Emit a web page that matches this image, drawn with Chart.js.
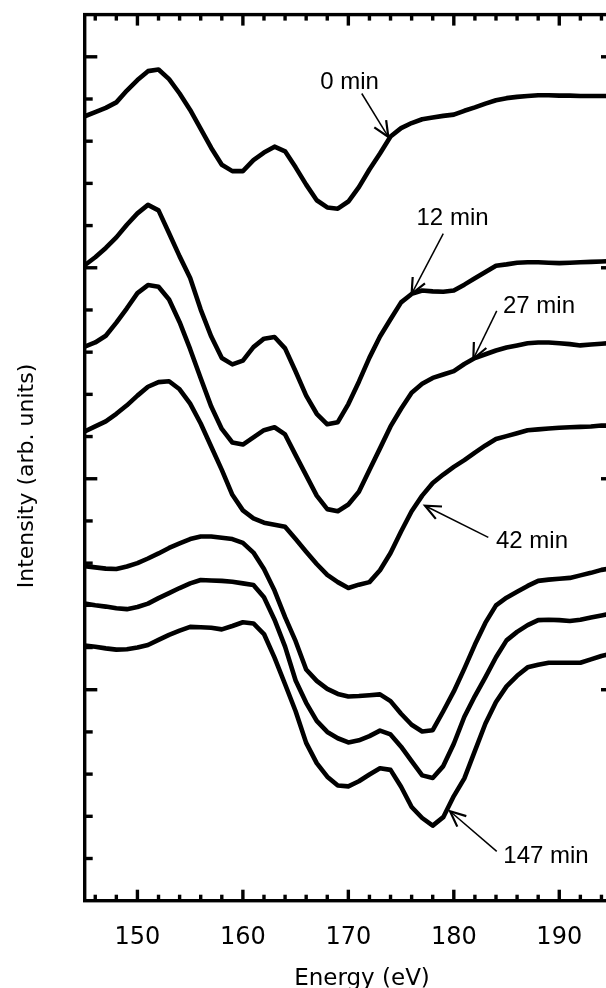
<!DOCTYPE html>
<html>
<head>
<meta charset="utf-8">
<script src="https://cdn.jsdelivr.net/npm/chart.js@4/dist/chart.umd.min.js"></script>
<style>
  html, body { margin: 0; padding: 0; background: #ffffff; overflow: hidden; }
  #wrap { position: absolute; left: 0; top: 0; width: 620px; height: 988px; }
  canvas { display: block; }
</style>
</head>
<body>
<div id="wrap"><canvas id="chart" width="620" height="988"></canvas></div>
<script>
// ---------------- data ----------------
const energies = [145,146,147,148,149,150,151,152,153,154,155,156,157,158,159,160,161,162,163,164,
  165,166,167,168,169,170,171,172,173,174,175,176,177,178,179,180,181,182,183,184,185,186,187,188,189,
  190,191,192,193,194,195];

const spec0min = [18.59,18.69,18.79,18.92,19.20,19.45,19.66,19.70,19.47,19.13,
  18.74,18.29,17.84,17.44,17.29,17.29,17.55,17.73,17.87,17.76,
  17.38,16.97,16.60,16.43,16.40,16.57,16.91,17.33,17.71,18.11,
  18.31,18.43,18.52,18.56,18.60,18.63,18.72,18.80,18.89,18.97,
  19.02,19.05,19.07,19.09,19.09,19.08,19.08,19.07,19.07,19.07,19.07];

const spec12min = [15.06,15.25,15.47,15.72,16.02,16.29,16.49,16.36,15.82,15.27,
  14.76,14.01,13.37,12.86,12.71,12.80,13.12,13.32,13.36,13.09,
  12.54,11.97,11.54,11.29,11.34,11.77,12.30,12.87,13.37,13.78,
  14.18,14.38,14.46,14.44,14.43,14.46,14.60,14.75,14.90,15.05,
  15.08,15.12,15.13,15.13,15.12,15.11,15.12,15.13,15.14,15.15,15.16];

const spec27min = [13.13,13.23,13.39,13.70,14.04,14.40,14.59,14.55,14.25,13.71,
  13.07,12.38,11.71,11.18,10.86,10.81,10.98,11.15,11.22,11.05,
  10.56,10.08,9.60,9.28,9.23,9.39,9.69,10.21,10.72,11.24,
  11.66,12.04,12.25,12.39,12.47,12.55,12.72,12.86,12.95,13.04,
  13.11,13.16,13.21,13.23,13.23,13.21,13.19,13.16,13.18,13.20,13.22];

const spec42min = [11.12,11.24,11.36,11.54,11.74,11.97,12.18,12.29,12.31,12.12,
  11.78,11.31,10.76,10.21,9.62,9.25,9.06,8.96,8.91,8.86,
  8.57,8.27,7.98,7.72,7.55,7.41,7.49,7.55,7.83,8.24,
  8.75,9.23,9.60,9.90,10.10,10.28,10.44,10.62,10.79,10.94,
  11.01,11.08,11.15,11.17,11.19,11.21,11.22,11.23,11.24,11.26,11.26];

const specUnlabeledA = [7.93,7.90,7.87,7.86,7.92,8.00,8.11,8.23,8.36,8.47,
  8.57,8.63,8.63,8.60,8.57,8.48,8.25,7.86,7.35,6.72,
  6.15,5.48,5.21,5.02,4.90,4.84,4.85,4.87,4.89,4.73,
  4.43,4.17,4.01,4.04,4.49,4.96,5.50,6.07,6.59,7.00,
  7.18,7.32,7.46,7.58,7.61,7.63,7.65,7.71,7.77,7.84,7.88];

const specUnlabeledB = [7.04,7.00,6.97,6.93,6.91,6.96,7.04,7.17,7.29,7.41,
  7.52,7.60,7.59,7.58,7.56,7.52,7.48,7.19,6.66,6.02,
  5.22,4.69,4.26,4.00,3.85,3.75,3.80,3.90,4.03,3.94,
  3.65,3.31,2.97,2.91,3.19,3.72,4.36,4.85,5.30,5.77,
  6.17,6.37,6.53,6.65,6.66,6.65,6.63,6.66,6.71,6.76,6.81];

const spec147min = [6.05,6.02,5.98,5.95,5.96,6.00,6.06,6.18,6.30,6.40,
  6.49,6.48,6.47,6.43,6.51,6.60,6.57,6.32,5.76,5.13,
  4.49,3.74,3.26,2.94,2.73,2.71,2.83,2.99,3.14,3.10,
  2.70,2.22,1.96,1.78,1.98,2.48,2.90,3.55,4.20,4.71,
  5.08,5.33,5.53,5.59,5.64,5.64,5.64,5.64,5.72,5.80,5.86];

// axis ticks
const xTickLabels = [150,160,170,180,190];
const xTickValues = [146,148,150,152,154,156,158,160,162,164,166,168,170,172,174,176,178,180,182,184,186,188,190,192,194];
const yTickValues = [1,2,3,4,5,6,7,8,9,10,11,12,13,14,15,16,17,18,19,20];

// annotation labels + arrows (in data units)
const annoText = ['0 min','12 min','27 min','42 min','147 min'];
const annoE = [170.11,179.88,188.08,187.41,188.74];
const annoV = [19.40,16.18,14.08,8.52,1.05];
const arrowTailE = [171.27,179.00,184.07,183.27,184.07];
const arrowTailV = [19.13,15.81,13.98,8.61,1.17];
const arrowTipE  = [173.79,176.00,181.85,177.27,179.64];
const arrowTipV  = [18.10,14.38,12.84,9.36,2.12];

const xTitle = 'Energy (eV)';
const yTitle = 'Intensity (arb. units)';

// ---------------- chart ----------------
const seriesList = [spec0min, spec12min, spec27min, spec42min, specUnlabeledA, specUnlabeledB, spec147min];
const seriesNames = ['0 min','12 min','27 min','42 min','unlabeled A','unlabeled B','147 min'];

const datasets = seriesList.map((vals, i) => ({
  label: seriesNames[i],
  data: energies.map((e, k) => ({ x: e, y: vals[k] })),
  borderColor: '#000000',
  backgroundColor: '#000000',
  borderWidth: 4.6,
  pointRadius: 0,
  tension: 0,
  fill: false,
  borderJoinStyle: 'round',
  borderCapStyle: 'round'
}));

function seg(ctx, x1, y1, x2, y2) {
  ctx.beginPath(); ctx.moveTo(x1, y1); ctx.lineTo(x2, y2); ctx.stroke();
}

const framePlugin = {
  id: 'frameAndNotes',
  afterDatasetsDraw(chart) {
    const ctx = chart.ctx;
    const a = chart.chartArea;
    const xs = chart.scales.x, ys = chart.scales.y;
    ctx.save();
    ctx.strokeStyle = '#000';
    ctx.fillStyle = '#000';
    ctx.lineCap = 'butt';
    // frame
    ctx.lineWidth = 3.4;
    ctx.strokeRect(a.left, a.top, a.right - a.left, a.bottom - a.top);
    // x ticks (bottom + top), inward
    xTickValues.forEach(v => {
      const px = xs.getPixelForValue(v);
      const major = xTickLabels.includes(v);
      const L = major ? 11 : 6;
      seg(ctx, px, a.bottom, px, a.bottom - L);
      seg(ctx, px, a.top, px, a.top + L);
    });
    // y ticks (left + right), inward
    yTickValues.forEach(v => {
      const py = ys.getPixelForValue(v);
      const major = v % 5 === 0;
      seg(ctx, a.left, py, a.left + (major ? 12.6 : 8), py);
      seg(ctx, a.right, py, a.right - (major ? 11 : 5), py);
    });
    // arrows
    for (let i = 0; i < annoText.length; i++) {
      const tx = xs.getPixelForValue(arrowTailE[i]), ty = ys.getPixelForValue(arrowTailV[i]);
      const hx = xs.getPixelForValue(arrowTipE[i]), hy = ys.getPixelForValue(arrowTipV[i]);
      ctx.lineWidth = 1.5;
      seg(ctx, tx, ty, hx, hy);
      const ang = Math.atan2(ty - hy, tx - hx);
      const hl = 17, spread = 0.42;
      ctx.lineWidth = 2.2;
      ctx.beginPath();
      ctx.moveTo(hx + hl * Math.cos(ang - spread), hy + hl * Math.sin(ang - spread));
      ctx.lineTo(hx, hy);
      ctx.lineTo(hx + hl * Math.cos(ang + spread), hy + hl * Math.sin(ang + spread));
      ctx.stroke();
    }
    // annotation labels
    ctx.font = '24px "Liberation Sans", Arial, sans-serif';
    ctx.textAlign = 'center';
    ctx.textBaseline = 'middle';
    for (let i = 0; i < annoText.length; i++) {
      ctx.fillText(annoText[i], xs.getPixelForValue(annoE[i]), ys.getPixelForValue(annoV[i]));
    }
    // axis titles
    ctx.font = '23px "DejaVu Sans", sans-serif';
    ctx.textBaseline = 'alphabetic';
    ctx.fillText(xTitle, 362, 985);
    ctx.font = '22px "DejaVu Sans", sans-serif';
    ctx.save();
    ctx.translate(33, 476);
    ctx.rotate(-Math.PI / 2);
    ctx.fillText(yTitle, 0, 0);
    ctx.restore();
    ctx.restore();
  }
};

new Chart(document.getElementById('chart'), {
  type: 'line',
  data: { datasets },
  options: {
    responsive: false,
    animation: false,
    devicePixelRatio: 1,
    layout: { padding: { left: 84.7, right: 8, top: 14.6, bottom: 13.9 } },
    plugins: { legend: { display: false }, tooltip: { enabled: false }, title: { display: false } },
    scales: {
      x: {
        type: 'linear',
        min: 145, max: 195,
        afterBuildTicks: (axis) => { axis.ticks = xTickLabels.map(v => ({ value: v })); },
        grid: { display: false, drawTicks: false },
        border: { display: false },
        ticks: {
          autoSkip: false, maxRotation: 0, padding: 22.3, color: '#000',
          font: { family: '"DejaVu Sans", sans-serif', size: 24, lineHeight: 1.2 },
          callback: (v) => String(v)
        }
      },
      y: {
        type: 'linear',
        display: false,
        min: 0, max: 21
      }
    }
  },
  plugins: [framePlugin]
});
</script>
</body>
</html>
